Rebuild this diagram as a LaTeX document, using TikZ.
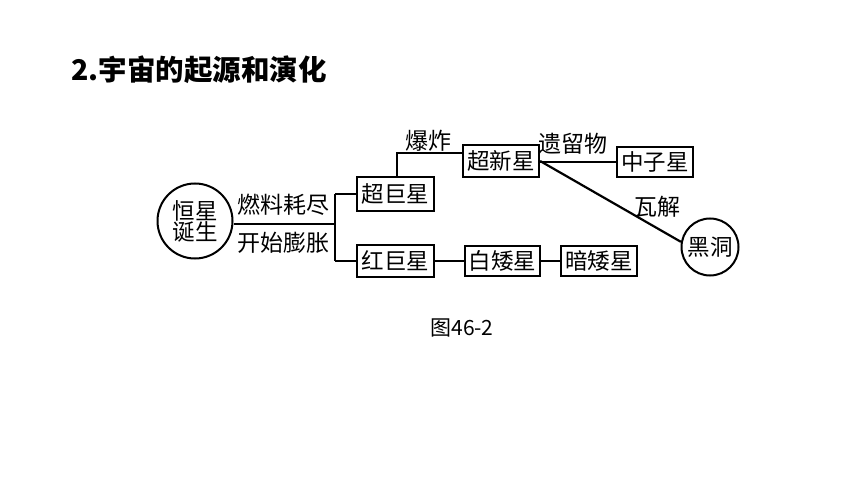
\documentclass[tikz,border=0pt]{standalone}
\usepackage{fontspec}
\setmainfont{Noto Sans CJK SC}
\newfontfamily\cjk{Noto Sans CJK SC}
\begin{document}
\begin{tikzpicture}[x=1pt,y=-1pt,
  lnk/.style={line width=2.2pt},
  boxn/.style={draw,line width=2.2pt,minimum width=76pt,minimum height=32pt,inner sep=0pt,font=\cjk\fontsize{22.5}{25}\selectfont},
  circn/.style={draw,circle,line width=2pt,inner sep=0pt,font=\cjk\fontsize{22.5}{25}\selectfont,align=center},
  lbl/.style={inner sep=0pt,font=\cjk\fontsize{23}{25}\selectfont}]
\useasboundingbox[fill=white] (0,0) rectangle (860,484);
\node[anchor=west,inner sep=0pt,font=\cjk\bfseries\fontsize{28.5}{32}\selectfont] (title) at (71,70) {2.宇宙的起源和演化};
\node[circn,minimum size=75pt] (birth) at (195,221) {恒星\\[-4pt]诞生};
\coordinate (jt) at (335,194);
\coordinate (jm) at (335,224);
\coordinate (jb) at (335,261);
\node[boxn,minimum width=77pt,minimum height=34pt] (sg) at (395.5,194) {超巨星};
\node[boxn,minimum width=77pt] (rg) at (395.5,261) {红巨星};
\node[boxn] (sn) at (501,161) {超新星};
\node[boxn,minimum height=30pt] (ns) at (655,162) {中子星};
\node[circn,minimum size=57pt] (bh) at (710,247) {黑洞};
\node[boxn,minimum width=75pt,minimum height=30pt] (wd) at (502.5,261) {白矮星};
\node[boxn,minimum width=76pt,minimum height=30pt] (dd) at (599,261) {暗矮星};
\coordinate (up) at (397,153);
\node[lbl] (l1) at (283,205) {燃料耗尽};
\node[lbl] (l2) at (283,243) {开始膨胀};
\node[lbl] (l3) at (428,141) {爆炸};
\node[lbl] (l4) at (573,144) {遗留物};
\node[lbl] (l5) at (657,207) {瓦解};
\draw[lnk] (birth.east |- jm) -- (jm);
\draw[lnk] (jt) -- (jb);
\draw[lnk] (jt) -- (sg.west);
\draw[lnk] (jb) -- (rg.west);
\draw[lnk] (sg.north -| up) -- (up) -- (sn.west |- up);
\draw[lnk] (sn.east |- ns.west) -- (ns.west);
\draw[lnk] (sn.east) -- (bh.170);
\draw[lnk] (rg.east) -- (wd.west);
\draw[lnk] (wd.east) -- (dd.west);
\node[anchor=center,inner sep=0pt,font=\cjk\fontsize{21}{24}\selectfont] (cap) at (462,328) {图46-2};
\end{tikzpicture}
\end{document}
